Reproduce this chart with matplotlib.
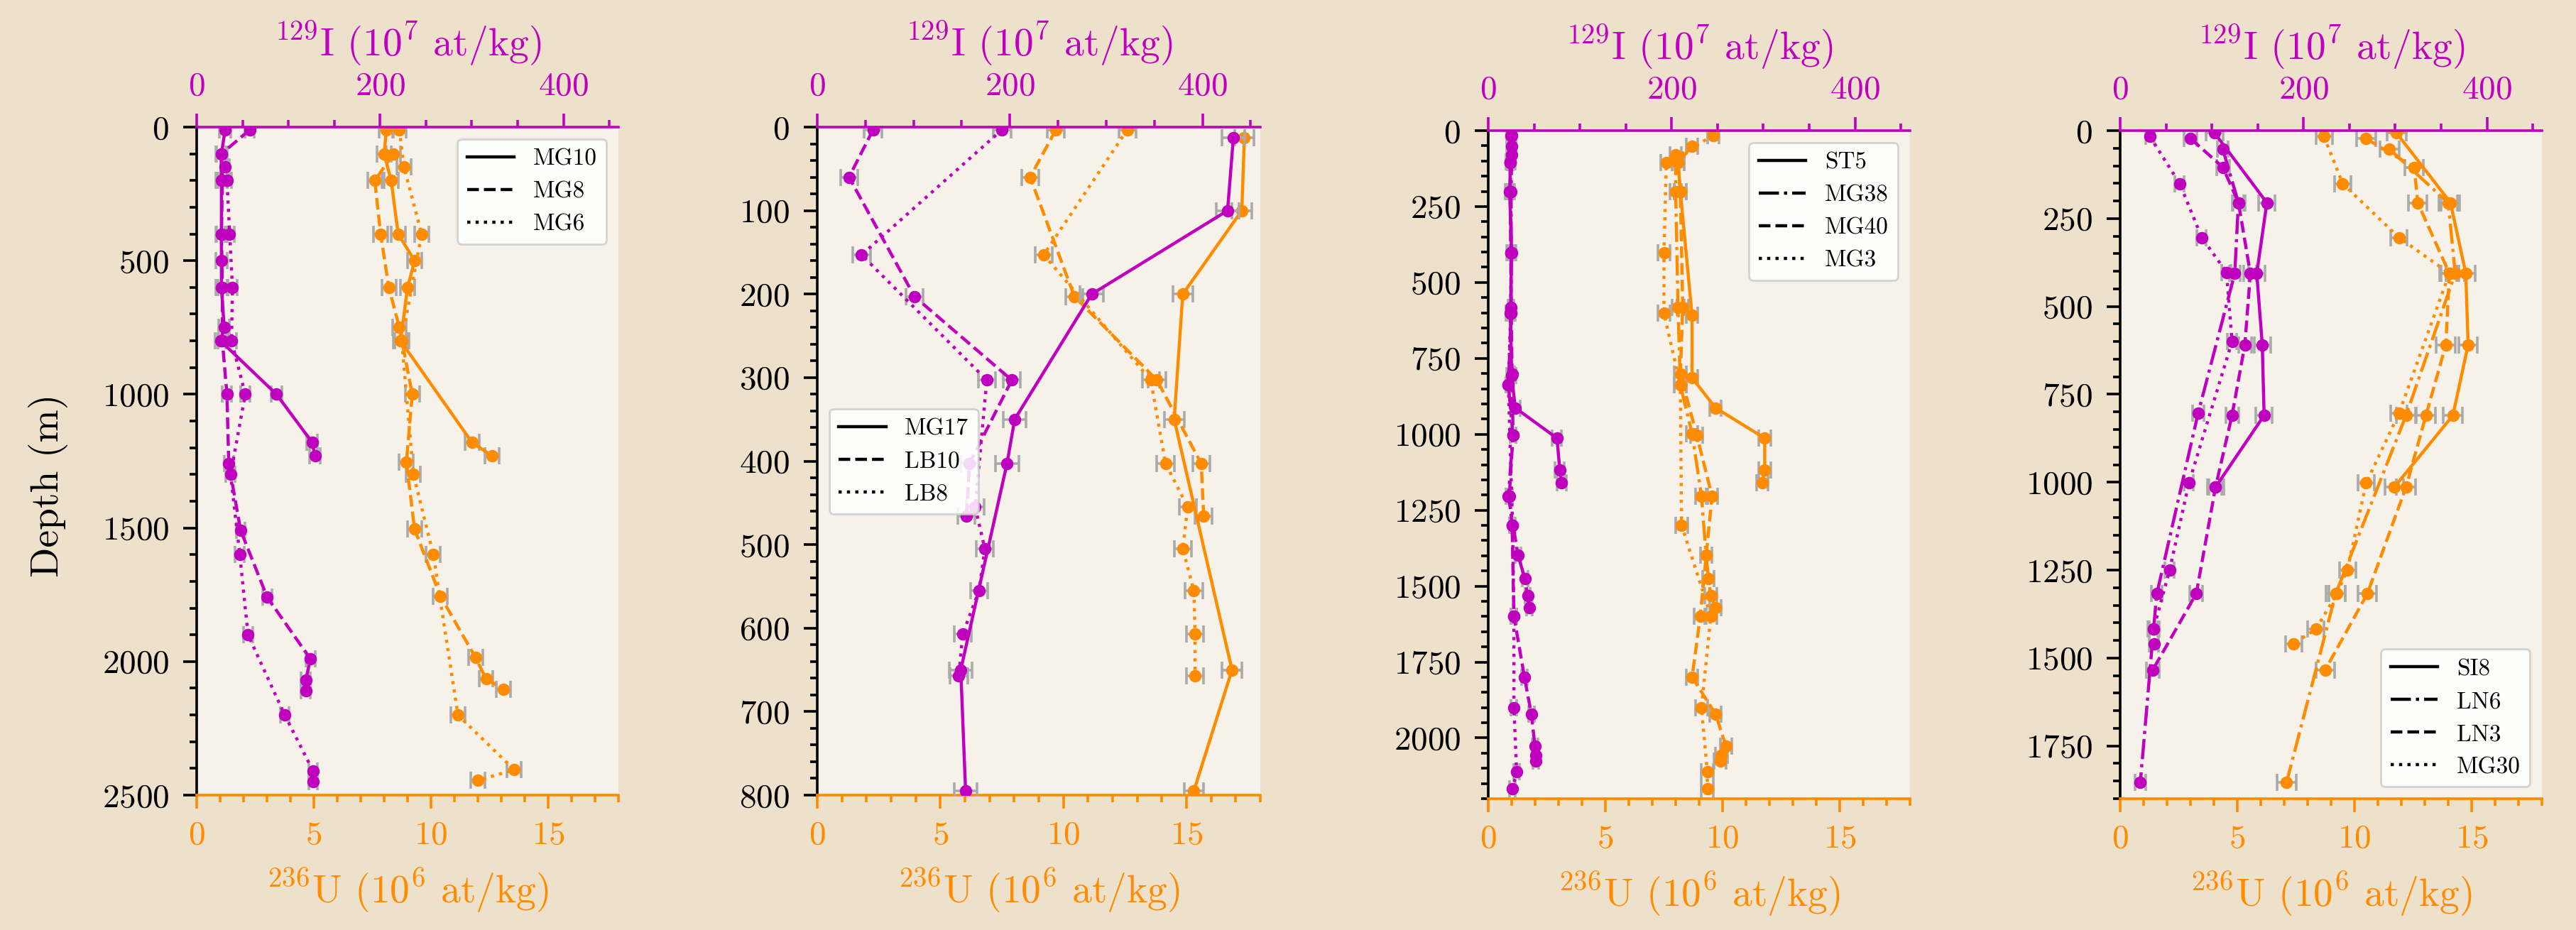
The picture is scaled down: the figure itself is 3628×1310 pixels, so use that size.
import matplotlib.pyplot as plt
from matplotlib.lines import Line2D
from matplotlib.ticker import MultipleLocator

plt.rcParams['font.family'] = 'cmr10'
plt.rcParams['mathtext.fontset'] = 'cm'
plt.rcParams['axes.formatter.use_mathtext'] = True

MAGENTA = '#bf00bf'
ORANGE = '#ff8c00'
ERRGRAY = '#aaaaaa'

# ---- panel 1 : MG10, MG8, MG6 ----
mg10_i_depth = [10, 100, 200, 400, 500, 600, 750, 800, 1000, 1180, 1230]
mg10_i = [31, 27, 27, 27, 27, 27, 30, 26, 87, 126, 129]
mg10_u_depth = [10, 100, 200, 400, 500, 600, 800, 1180, 1230]
mg10_u = [8.1, 8.0, 8.3, 8.6, 9.3, 9.0, 8.7, 11.75, 12.6]
mg8_i_depth = [10, 100, 200, 400, 600, 800, 1000, 1260, 1510, 1760, 1990, 2070, 2110]
mg8_i = [58, 27, 28, 27, 28, 28, 33, 35, 48, 77, 124, 119, 119]
mg8_u_depth = [100, 200, 400, 600, 750, 1000, 1255, 1505, 1755, 1985, 2065, 2105]
mg8_u = [8.4, 7.6, 7.85, 8.2, 8.65, 9.2, 8.95, 9.3, 10.4, 11.9, 12.35, 13.1]
mg6_i_depth = [150, 200, 400, 600, 800, 1000, 1300, 1600, 1900, 2200, 2410, 2450]
mg6_i = [31, 33, 36, 39, 38, 53, 37, 47, 56, 96, 127, 127]
mg6_u_depth = [10, 150, 400, 800, 1300, 1600, 2200, 2405, 2445]
mg6_u = [8.65, 8.85, 9.6, 8.75, 9.25, 10.1, 11.15, 13.55, 12.0]

# ---- panel 2 : MG17, LB10, LB8 ----
mg17_i_depth = [13, 100, 200, 350, 403, 650, 795]
mg17_i = [432, 426, 285, 205, 197, 149, 154]
mg17_u_depth = [13, 100, 200, 350, 650, 795]
mg17_u = [17.35, 17.25, 14.85, 14.5, 16.85, 15.3]
lb10_i_depth = [3, 60, 203, 303, 403, 466]
lb10_i = [58, 33, 101, 202, 158, 155]
lb10_u_depth = [3, 60, 203, 303, 403, 466]
lb10_u = [9.7, 8.65, 10.45, 13.8, 15.6, 15.7]
lb8_i_depth = [3, 153, 303, 455, 505, 555, 607, 657]
lb8_i = [192, 46, 176, 164, 174, 168, 151, 147]
lb8_u_depth = [3, 153, 303, 403, 455, 505, 555, 607, 657]
lb8_u = [12.6, 9.2, 13.55, 14.15, 15.05, 14.85, 15.3, 15.35, 15.35]

# ---- panel 3 : ST5, MG38, MG40, MG3 ----
st5_i_depth = [16, 51, 102, 202, 402, 602, 807, 913, 1013, 1117, 1160]
st5_i = [25.5, 25.5, 24.3, 23.4, 25.5, 24.3, 25.5, 29.5, 75, 78, 80]
st5_u_depth = [51, 106, 202, 609, 814, 913, 1013, 1117, 1160]
st5_u = [8.7, 8.1, 8.2, 8.7, 8.7, 9.7, 11.8, 11.8, 11.7]
mg38_i_depth = [80, 202, 402, 602, 838, 1003, 1203, 1399, 1475, 1532, 1571]
mg38_i = [25.5, 25, 25, 25, 22, 27, 22, 32.5, 40, 43, 45]
mg38_u_depth = [80, 202, 581, 838, 998, 1203, 1399, 1475, 1532, 1571]
mg38_u = [8.0, 8.0, 8.1, 8.2, 8.7, 9.1, 9.3, 9.4, 9.5, 9.7]
mg40_i_depth = [106, 202, 581, 802, 1003, 1203, 1299, 1599, 1800, 1921, 2028, 2057, 2075]
mg40_i = [24, 24, 25, 26, 27, 23, 26, 28, 39.5, 47, 51, 52, 52]
mg40_u_depth = [106, 202, 581, 802, 1003, 1203, 1599, 1800, 1921, 2028, 2057, 2075]
mg40_u = [8.1, 8.2, 8.3, 8.2, 8.9, 9.55, 9.05, 8.7, 9.7, 10.15, 9.95, 9.9]
mg3_i_depth = [16, 106, 402, 602, 838, 1299, 1599, 1900, 2111, 2168]
mg3_i = [25, 24, 25, 24.5, 22, 26.5, 28, 28, 31, 26.5]
mg3_u_depth = [16, 106, 402, 602, 838, 1299, 1599, 1900, 2111, 2168]
mg3_u = [9.6, 7.6, 7.5, 7.5, 8.2, 8.25, 9.5, 9.1, 9.35, 9.35]

# ---- panel 4 : SI8, LN6, LN3, MG30 ----
si8_i_depth = [7, 205, 406, 609, 810, 1014]
si8_i = [103, 160, 149, 155, 157, 104]
si8_u_depth = [7, 205, 406, 609, 810, 1014]
si8_u = [11.8, 14.1, 14.75, 14.85, 14.2, 11.7]
ln6_i_depth = [53, 205, 406, 804, 1317, 1418, 1854]
ln6_i = [112, 129, 125, 85, 40, 36.4, 22]
ln6_u_depth = [53, 205, 406, 810, 1317, 1854]
ln6_u = [11.5, 14.0, 14.3, 12.2, 9.2, 7.1]
ln3_i_depth = [23, 104, 205, 406, 609, 810, 1014, 1317, 1534]
ln3_i = [77, 112, 129, 142, 136, 122, 104, 83, 35.5]
ln3_u_depth = [23, 104, 205, 406, 609, 810, 1014, 1317, 1534]
ln3_u = [10.5, 12.55, 12.7, 14.05, 13.9, 13.05, 12.2, 10.55, 8.75]
mg30_i_depth = [17, 151, 304, 403, 600, 1002, 1249, 1418, 1460]
mg30_i = [32.5, 65, 89, 116, 122, 75, 54, 36.4, 37]
mg30_u_depth = [17, 151, 304, 406, 804, 1002, 1249, 1317, 1418, 1460]
mg30_u = [8.7, 9.5, 11.9, 14.05, 11.9, 10.5, 9.7, 9.25, 8.35, 7.4]

# typical 1-sigma uncertainty of each station (I, U)
i_err = {'MG10': 6, 'MG8': 5, 'MG6': 5, 'MG17': 12, 'LB10': 9, 'LB8': 9,
         'ST5': 5, 'MG38': 3, 'MG40': 3, 'MG3': 3,
         'SI8': 9, 'LN6': 6, 'LN3': 7, 'MG30': 5}
u_err = {'MG10': 0.3, 'MG8': 0.3, 'MG6': 0.3, 'MG17': 0.4, 'LB10': 0.35, 'LB8': 0.35,
         'ST5': 0.25, 'MG38': 0.25, 'MG40': 0.25, 'MG3': 0.25,
         'SI8': 0.4, 'LN6': 0.4, 'LN3': 0.4, 'MG30': 0.35}

stations = {
    'MG10': (mg10_i_depth, mg10_i, mg10_u_depth, mg10_u),
    'MG8': (mg8_i_depth, mg8_i, mg8_u_depth, mg8_u),
    'MG6': (mg6_i_depth, mg6_i, mg6_u_depth, mg6_u),
    'MG17': (mg17_i_depth, mg17_i, mg17_u_depth, mg17_u),
    'LB10': (lb10_i_depth, lb10_i, lb10_u_depth, lb10_u),
    'LB8': (lb8_i_depth, lb8_i, lb8_u_depth, lb8_u),
    'ST5': (st5_i_depth, st5_i, st5_u_depth, st5_u),
    'MG38': (mg38_i_depth, mg38_i, mg38_u_depth, mg38_u),
    'MG40': (mg40_i_depth, mg40_i, mg40_u_depth, mg40_u),
    'MG3': (mg3_i_depth, mg3_i, mg3_u_depth, mg3_u),
    'SI8': (si8_i_depth, si8_i, si8_u_depth, si8_u),
    'LN6': (ln6_i_depth, ln6_i, ln6_u_depth, ln6_u),
    'LN3': (ln3_i_depth, ln3_i, ln3_u_depth, ln3_u),
    'MG30': (mg30_i_depth, mg30_i, mg30_u_depth, mg30_u),
}

panels = [
    (['MG10', 'MG8', 'MG6'], ['-', '--', ':'], 2500, 500, 100, 'upper right'),
    (['MG17', 'LB10', 'LB8'], ['-', '--', ':'], 800, 100, 20, 'center left'),
    (['ST5', 'MG38', 'MG40', 'MG3'], ['-', '-.', '--', ':'], 2200, 250, 50, 'upper right'),
    (['SI8', 'LN6', 'LN3', 'MG30'], ['-', '-.', '--', ':'], 1900, 250, 50, 'lower right'),
]

# axes boxes in pixels: left, right, top, bottom
W, H = 3628, 1310
boxes = [(277, 871, 179, 1120), (1151, 1775, 179, 1120),
         (2096, 2690, 184, 1125), (2986, 3580, 184, 1125)]

fig = plt.figure(figsize=(W / 200, H / 200), dpi=200, facecolor='#ede1cb')

eb_kw = dict(marker='o', ms=5.3, lw=1.6, ecolor=ERRGRAY, elinewidth=1.3,
             capsize=4.2, capthick=1.3)

for k, (names, styles, ymax, ymaj, ymin, loc) in enumerate(panels):
    l, r, t, b = boxes[k]
    ax = fig.add_axes([l / W, 1 - b / H, (r - l) / W, (b - t) / H])
    ax.set_facecolor('#f7f2e9')
    ax2 = ax.twiny()

    for name, ls in zip(names, styles):
        di, vi, du, vu = stations[name]
        ax.errorbar(vu, du, xerr=u_err[name], color=ORANGE, ls=ls, **eb_kw)
        ax2.errorbar(vi, di, xerr=i_err[name], color=MAGENTA, ls=ls, **eb_kw)

    ax.set_xlim(0, 18)
    ax2.set_xlim(0, 460)
    ax.set_ylim(ymax, 0)

    ax.xaxis.set_major_locator(MultipleLocator(5))
    ax.xaxis.set_minor_locator(MultipleLocator(1))
    ax2.xaxis.set_major_locator(MultipleLocator(200))
    ax2.xaxis.set_minor_locator(MultipleLocator(50))
    ax.yaxis.set_major_locator(MultipleLocator(ymaj))
    ax.yaxis.set_minor_locator(MultipleLocator(ymin))

    for sp in ['top', 'right']:
        ax.spines[sp].set_visible(False)
    for sp in ['bottom', 'left', 'right']:
        ax2.spines[sp].set_visible(False)
    ax.spines['bottom'].set_color(ORANGE)
    ax.spines['bottom'].set_linewidth(1.3)
    ax.spines['left'].set_linewidth(1.3)
    ax2.spines['top'].set_color(MAGENTA)
    ax2.spines['top'].set_linewidth(1.3)

    ax.tick_params(axis='x', which='both', colors=ORANGE, labelsize=17, width=1.3, pad=6)
    ax.tick_params(axis='y', which='both', labelsize=17, width=1.3, pad=7)
    ax2.tick_params(axis='x', which='both', colors=MAGENTA, labelsize=17, width=1.3, pad=6)
    for a in (ax, ax2):
        a.tick_params(which='major', length=7)
        a.tick_params(which='minor', length=3.5)

    ax.set_xlabel(r'$^{236}$U (10$^6$ at/kg)', color=ORANGE, fontsize=20, labelpad=8)
    ax2.set_xlabel(r'$^{129}$I (10$^7$ at/kg)', color=MAGENTA, fontsize=20, labelpad=8)
    if k == 0:
        ax.set_ylabel('Depth (m)', fontsize=20)
        ax.yaxis.set_label_coords(-0.305, 0.464)

    handles = [Line2D([], [], color='black', ls=ls, lw=1.6) for ls in styles]
    ax2.legend(handles, names, loc=loc, fontsize=12, framealpha=0.85,
               edgecolor='#cccccc')

fig.savefig('out.png', dpi=200, facecolor=fig.get_facecolor())
